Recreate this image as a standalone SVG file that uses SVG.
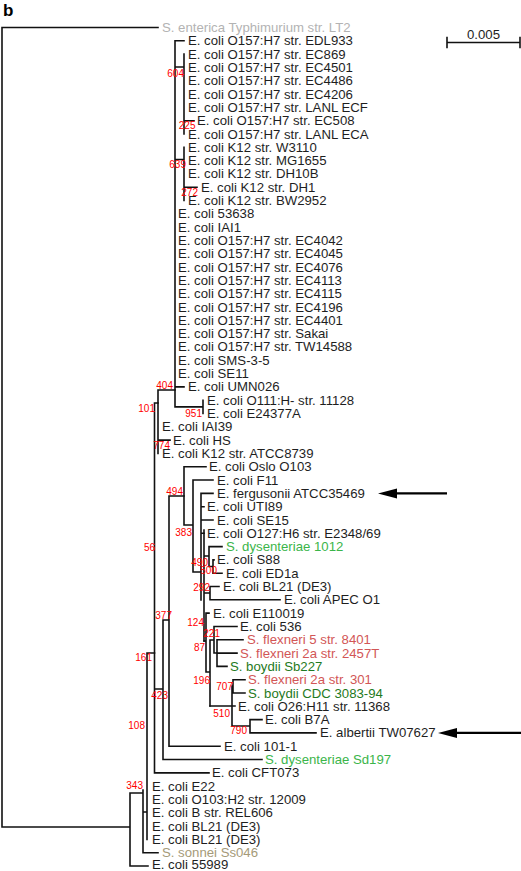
<svg xmlns="http://www.w3.org/2000/svg" width="521" height="871" viewBox="0 0 521 871">
<style>
.t{font-family:"Liberation Sans",Arial,Helvetica,sans-serif;font-size:13.2px;fill:#1e1e1e}
.gr{fill:#b3b3b3}
.lg{fill:#3bb54a}
.dg{fill:#1f7a22}
.rd{fill:#d25656}
.sn{fill:#a59a78}
.bs{font-family:"Liberation Sans",Arial,sans-serif;font-size:10px;fill:#ff0000;text-anchor:end}
.ln{fill:none;stroke:#111;stroke-width:1.6;stroke-linecap:square}
.ar{stroke:#000;stroke-width:2.2;fill:none}
</style>
<rect width="521" height="871" fill="#fff"/>
<text x="3" y="16" font-family="Liberation Sans,Arial,sans-serif" font-size="17" font-weight="bold" fill="#000">b</text>

<g id="scalebar">
<path class="ln" d="M447,42.5H520M447,37.5V47.5M520,37.5V47.5"/>
<text class="t" x="483.5" y="39" text-anchor="middle">0.005</text>
</g>

<g id="connectors">
<path class="ln" d="M2,27.5V827M2,27.5H158M2,827H130M130,793V866M130,866H148M130,793H143M143,790V852.7M143,852.7H158M143,812H147M147,653V839.4M147,653H154.5"/>
<path class="ln" d="M154.5,403V772.9M154.5,403H158M154.5,772.9H209M154.5,689H163M163,620V759.5M163,759.5H262M163,620H169M169,496V746.2M169,746.2H220M169,496H184"/>
<path class="ln" d="M158,390V453.4M158,390H175M158,440.1H170"/>
<path class="ln" d="M175,40.8V406.9M175,40.8H184M175,67H184M184,54.1V134M184,120.7H194M175,159.5H184M184,147.3V200.5M184,187.2H197M175,386.9H184M175,406.9H203M203,400.2V413.5"/>
<path class="ln" d="M184,466.7V525M184,466.7H206M184,525H193M193,480V572M193,480H213M193,572H201M201,493.4V600M201,493.4H213M201,506.7H204M201,520H213M201,533.3H204"/>
<path class="ln" d="M204,530V641M204,556H209M209,546.6V566.5M209,546.6H222M209,566.5H213M213,559.9V573.2M213,559.9H214M213,573.2H222M204,593H210M210,586.5V599.8M210,586.5H219M210,599.8H280"/>
<path class="ln" d="M204,641H206M206,613.1V672M206,613.1H209M206,672H210M210,640V706M210,640H214M214,626.5V653M214,626.5H237M214,653H217M217,639.8V666.4M217,639.8H243M217,653.1H237M217,666.4H227"/>
<path class="ln" d="M210,706H235M232,686V726M232,686H233M233,679.7V693M233,679.7H245M233,693H245M232,726H250M250,719.6V732.9M250,719.6H262M250,732.9H316"/>
</g>

<g id="arrows">
<path class="ar" d="M447,493.4H394"/>
<polygon points="378,493.4 397,488.4 397,498.4" fill="#000"/>
<path class="ar" d="M521,732.9H454"/>
<polygon points="438,732.9 457,727.9 457,737.9" fill="#000"/>
</g>

<g id="bootstrap">
<text class="bs" x="184" y="76.5">604</text>
<text class="bs" x="195.5" y="128.5">225</text>
<text class="bs" x="186" y="167.5">639</text>
<text class="bs" x="198" y="196">272</text>
<text class="bs" x="173" y="388.5">404</text>
<text class="bs" x="202" y="416.5">951</text>
<text class="bs" x="155" y="411.5">101</text>
<text class="bs" x="170" y="449">774</text>
<text class="bs" x="183" y="494.5">494</text>
<text class="bs" x="192" y="535.5">383</text>
<text class="bs" x="155" y="550.5">56</text>
<text class="bs" x="208" y="565.5">490</text>
<text class="bs" x="217" y="573.5">500</text>
<text class="bs" x="210" y="590.5">292</text>
<text class="bs" x="172" y="618.5">377</text>
<text class="bs" x="204" y="625.5">124</text>
<text class="bs" x="220" y="636.5">221</text>
<text class="bs" x="205" y="650.5">87</text>
<text class="bs" x="152" y="660.5">161</text>
<text class="bs" x="210" y="683.5">196</text>
<text class="bs" x="233" y="689.5">707</text>
<text class="bs" x="168" y="698.5">423</text>
<text class="bs" x="230" y="716.5">510</text>
<text class="bs" x="145" y="728.5">108</text>
<text class="bs" x="247" y="733.5">790</text>
<text class="bs" x="143" y="788.5">343</text>
</g>

<g id="n00"><text class="t gr" x="162" y="32">S. enterica Typhimurium str. LT2</text></g>
<g id="n01"><text class="t" x="188" y="45.3">E. coli O157:H7 str. EDL933</text></g>
<g id="n02"><text class="t" x="188" y="58.6">E. coli O157:H7 str. EC869</text></g>
<g id="n03"><text class="t" x="188" y="71.9">E. coli O157:H7 str. EC4501</text></g>
<g id="n04"><text class="t" x="188" y="85.2">E. coli O157:H7 str. EC4486</text></g>
<g id="n05"><text class="t" x="188" y="98.6">E. coli O157:H7 str. EC4206</text></g>
<g id="n06"><text class="t" x="188" y="111.9">E. coli O157:H7 str. LANL ECF</text></g>
<g id="n07"><text class="t" x="197" y="125.2">E. coli O157:H7 str. EC508</text></g>
<g id="n08"><text class="t" x="188" y="138.5">E. coli O157:H7 str. LANL ECA</text></g>
<g id="n09"><text class="t" x="188" y="151.8">E. coli K12 str. W3110</text></g>
<g id="n10"><text class="t" x="188" y="165.1">E. coli K12 str. MG1655</text></g>
<g id="n11"><text class="t" x="188" y="178.4">E. coli K12 str. DH10B</text></g>
<g id="n12"><text class="t" x="201" y="191.7">E. coli K12 str. DH1</text></g>
<g id="n13"><text class="t" x="188" y="205">E. coli K12 str. BW2952</text></g>
<g id="n14"><text class="t" x="178" y="218.3">E. coli 53638</text></g>
<g id="n15"><text class="t" x="178" y="231.7">E. coli IAI1</text></g>
<g id="n16"><text class="t" x="178" y="245">E. coli O157:H7 str. EC4042</text></g>
<g id="n17"><text class="t" x="178" y="258.3">E. coli O157:H7 str. EC4045</text></g>
<g id="n18"><text class="t" x="178" y="271.6">E. coli O157:H7 str. EC4076</text></g>
<g id="n19"><text class="t" x="178" y="284.9">E. coli O157:H7 str. EC4113</text></g>
<g id="n20"><text class="t" x="178" y="298.2">E. coli O157:H7 str. EC4115</text></g>
<g id="n21"><text class="t" x="178" y="311.5">E. coli O157:H7 str. EC4196</text></g>
<g id="n22"><text class="t" x="178" y="324.8">E. coli O157:H7 str. EC4401</text></g>
<g id="n23"><text class="t" x="178" y="338.1">E. coli O157:H7 str. Sakai</text></g>
<g id="n24"><text class="t" x="178" y="351.4">E. coli O157:H7 str. TW14588</text></g>
<g id="n25"><text class="t" x="178" y="364.8">E. coli SMS-3-5</text></g>
<g id="n26"><text class="t" x="178" y="378.1">E. coli SE11</text></g>
<g id="n27"><text class="t" x="188" y="391.4">E. coli UMN026</text></g>
<g id="n28"><text class="t" x="207" y="404.7">E. coli O111:H- str. 11128</text></g>
<g id="n29"><text class="t" x="207" y="418">E. coli E24377A</text></g>
<g id="n30"><text class="t" x="162" y="431.3">E. coli IAI39</text></g>
<g id="n31"><text class="t" x="173" y="444.6">E. coli HS</text></g>
<g id="n32"><text class="t" x="162" y="457.9">E. coli K12 str. ATCC8739</text></g>
<g id="n33"><text class="t" x="209" y="471.2">E. coli Oslo O103</text></g>
<g id="n34"><text class="t" x="217" y="484.5">E. coli F11</text></g>
<g id="n35"><text class="t" x="217" y="497.9">E. fergusonii ATCC35469</text></g>
<g id="n36"><text class="t" x="207" y="511.2">E. coli UTI89</text></g>
<g id="n37"><text class="t" x="217" y="524.5">E. coli SE15</text></g>
<g id="n38"><text class="t" x="207" y="537.8">E. coli O127:H6 str. E2348/69</text></g>
<g id="n39"><text class="t lg" x="226" y="551.1">S. dysenteriae 1012</text></g>
<g id="n40"><text class="t" x="217" y="564.4">E. coli S88</text></g>
<g id="n41"><text class="t" x="226" y="577.7">E. coli ED1a</text></g>
<g id="n42"><text class="t" x="223" y="591">E. coli BL21 (DE3)</text></g>
<g id="n43"><text class="t" x="284" y="604.3">E. coli APEC O1</text></g>
<g id="n44"><text class="t" x="213" y="617.6">E. coli E110019</text></g>
<g id="n45"><text class="t" x="240" y="631">E. coli 536</text></g>
<g id="n46"><text class="t rd" x="247" y="644.3">S. flexneri 5 str. 8401</text></g>
<g id="n47"><text class="t rd" x="240" y="657.6">S. flexneri 2a str. 2457T</text></g>
<g id="n48"><text class="t dg" x="230" y="670.9">S. boydii Sb227</text></g>
<g id="n49"><text class="t rd" x="248" y="684.2">S. flexneri 2a str. 301</text></g>
<g id="n50"><text class="t dg" x="248" y="697.5">S. boydii CDC 3083-94</text></g>
<g id="n51"><text class="t" x="238" y="710.8">E. coli O26:H11 str. 11368</text></g>
<g id="n52"><text class="t" x="265" y="724.1">E. coli B7A</text></g>
<g id="n53"><text class="t" x="320" y="737.4">E. albertii TW07627</text></g>
<g id="n54"><text class="t" x="224" y="750.7">E. coli 101-1</text></g>
<g id="n55"><text class="t lg" x="265" y="764">S. dysenteriae Sd197</text></g>
<g id="n56"><text class="t" x="212" y="777.4">E. coli CFT073</text></g>
<g id="n57"><text class="t" x="152" y="790.7">E. coli E22</text></g>
<g id="n58"><text class="t" x="152" y="804">E. coli O103:H2 str. 12009</text></g>
<g id="n59"><text class="t" x="152" y="817.3">E. coli B str. REL606</text></g>
<g id="n60"><text class="t" x="152" y="830.6">E. coli BL21 (DE3)</text></g>
<g id="n61"><text class="t" x="152" y="843.9">E. coli BL21 (DE3)</text></g>
<g id="n62"><text class="t sn" x="162" y="857">S. sonnei Ss046</text></g>
<g id="n63"><text class="t" x="152" y="869.2">E. coli 55989</text></g>
</svg>
